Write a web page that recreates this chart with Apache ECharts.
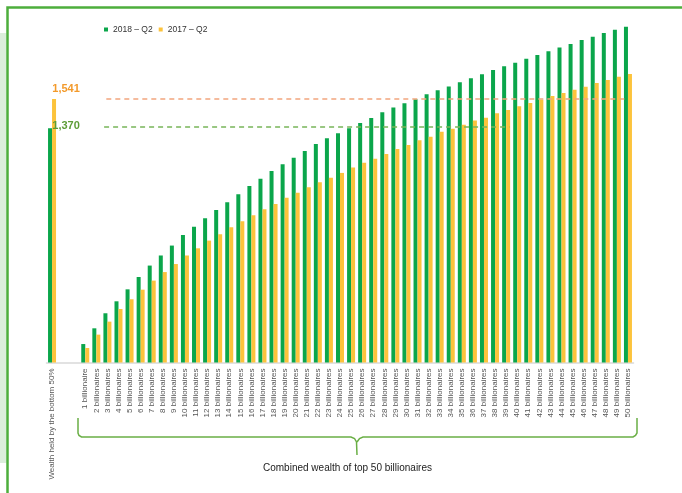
<!DOCTYPE html>
<html>
<head>
<meta charset="utf-8">
<script src="https://cdn.jsdelivr.net/npm/echarts@6/dist/echarts.min.js"></script>
<style>
  html, body { margin: 0; padding: 0; background: #fff; }
  #chart { width: 682px; height: 493px; }
</style>
</head>
<body>
<div id="chart"></div>
<script>
  // 类目（前面两个空位用来隔开）
  let categories = ['Wealth held by the bottom 50%', '', '',
    '1 billionaire', '2 billionaires', '3 billionaires', '4 billionaires', '5 billionaires',
    '6 billionaires', '7 billionaires', '8 billionaires', '9 billionaires', '10 billionaires',
    '11 billionaires', '12 billionaires', '13 billionaires', '14 billionaires', '15 billionaires',
    '16 billionaires', '17 billionaires', '18 billionaires', '19 billionaires', '20 billionaires',
    '21 billionaires', '22 billionaires', '23 billionaires', '24 billionaires', '25 billionaires',
    '26 billionaires', '27 billionaires', '28 billionaires', '29 billionaires', '30 billionaires',
    '31 billionaires', '32 billionaires', '33 billionaires', '34 billionaires', '35 billionaires',
    '36 billionaires', '37 billionaires', '38 billionaires', '39 billionaires', '40 billionaires',
    '41 billionaires', '42 billionaires', '43 billionaires', '44 billionaires', '45 billionaires',
    '46 billionaires', '47 billionaires', '48 billionaires', '49 billionaires', '50 billionaires']

  let seriesNames = ['2018 – Q2', '2017 – Q2']

  // bottom 50%
  let bottom2018 = 1370
  let bottom2017 = 1541
  let bottomLabels = ['1,370', '1,541']

  // top 50 billionaires combined (cumulative)
  let top2018 = [108, 200, 288, 358, 428, 500, 567, 626, 684, 746,
    794, 844, 892, 937, 984, 1033, 1075, 1120, 1159, 1198,
    1237, 1278, 1312, 1341, 1370, 1401, 1430, 1464, 1491, 1516,
    1540, 1569, 1593, 1615, 1639, 1663, 1686, 1711, 1733, 1754,
    1777, 1799, 1821, 1843, 1863, 1887, 1906, 1928, 1947, 1964]
  let top2017 = [85, 163, 239, 313, 370, 426, 479, 529, 576, 626,
    668, 713, 750, 791, 826, 862, 897, 927, 964, 993,
    1025, 1054, 1081, 1109, 1140, 1168, 1192, 1220, 1249, 1272,
    1300, 1321, 1350, 1368, 1391, 1415, 1432, 1458, 1477, 1499,
    1518, 1537, 1559, 1577, 1596, 1613, 1635, 1653, 1672, 1688]

  // 参考虚线: [起点类目位置, 终点类目位置, 数值]
  let refLine2018 = [4.7, 41.3, 1380]
  let refLine2017 = [4.9, 51.9, 1541]

  let green = '#0BA64B'
  let orange = '#FCC33C'
  let font = 'Liberation Sans, Arial, sans-serif'

  let data2018 = [{
    value: bottom2018,
    label: {
      show: true, position: 'top', offset: [16, 8], formatter: bottomLabels[0],
      color: '#5D9C37', fontWeight: 'bold', fontSize: 11, fontFamily: font
    }
  }, '-', '-'].concat(top2018)
  let data2017 = [{
    value: bottom2017,
    label: {
      show: true, position: 'top', offset: [12, 0], formatter: bottomLabels[1],
      color: '#F39A2B', fontWeight: 'bold', fontSize: 11, fontFamily: font
    }
  }, '-', '-'].concat(top2017)

  let bracketStyle = { stroke: '#6AAF45', lineWidth: 1.5, fill: null }

  let myChart = echarts.init(document.getElementById('chart'))
  let option = {
    animation: false,
    backgroundColor: '#fff',
    textStyle: { fontFamily: font },
    legend: {
      left: 99,
      top: 20,
      itemWidth: 4,
      itemHeight: 4,
      itemGap: 6,
      icon: 'rect',
      textStyle: { fontSize: 8.5, color: '#333', fontFamily: font },
      data: seriesNames
    },
    grid: {
      left: 46.5,
      right: 48.5,
      top: 20.6,
      bottom: 130.5
    },
    xAxis: [{
      type: 'category',
      data: categories,
      axisTick: { show: false },
      axisLine: { lineStyle: { color: '#d9d9d9', width: 1.5 } },
      axisLabel: {
        interval: 0,
        rotate: 90,
        fontSize: 8,
        margin: 6,
        color: '#555',
        fontFamily: font
      }
    }, {
      // 隐藏的数值轴，用来画虚线
      type: 'value',
      min: -0.5,
      max: categories.length - 0.5,
      show: false
    }],
    yAxis: {
      type: 'value',
      min: 0,
      max: 2000,
      show: false
    },
    series: [{
      name: seriesNames[0],
      type: 'bar',
      barWidth: 4,
      barGap: '0%',
      itemStyle: { color: green },
      data: data2018
    }, {
      name: seriesNames[1],
      type: 'bar',
      barWidth: 4,
      itemStyle: { color: orange },
      data: data2017
    }, {
      type: 'line',
      xAxisIndex: 1,
      data: [],
      silent: true,
      markLine: {
        symbol: ['none', 'none'],
        label: { show: false },
        silent: true,
        data: [
          [{ coord: [refLine2017[0], refLine2017[2]], lineStyle: { color: '#F2A57E', type: [5, 4], width: 1.5 } },
           { coord: [refLine2017[1], refLine2017[2]] }],
          [{ coord: [refLine2018[0], refLine2018[2]], lineStyle: { color: '#78B55A', type: [5, 4], width: 1.5 } },
           { coord: [refLine2018[1], refLine2018[2]] }]
        ]
      }
    }],
    graphic: [{
      // 左侧浅绿色底
      type: 'rect',
      shape: { x: 0, y: 33, width: 6.5, height: 430 },
      style: { fill: '#DCEEDC' },
      silent: true
    }, {
      // 外框
      type: 'polyline',
      shape: { points: [[7.5, 493], [7.5, 7.5], [682, 7.5]] },
      style: { stroke: '#4DAE3C', lineWidth: 2.5, fill: null },
      silent: true
    }, {
      // 大括号 左半
      type: 'polyline',
      shape: { points: [[78, 418], [78, 433], [79, 435.5], [81.5, 437], [351, 437], [354.5, 438.5], [356.5, 442], [357, 455]] },
      style: bracketStyle,
      silent: true
    }, {
      // 大括号 右半
      type: 'polyline',
      shape: { points: [[357, 442], [359.5, 438.5], [363, 437], [633, 437], [635.5, 435.5], [637, 433], [637, 418]] },
      style: bracketStyle,
      silent: true
    }, {
      type: 'text',
      left: 263,
      top: 463,
      style: {
        text: 'Combined wealth of top 50 billionaires',
        fontSize: 10,
        fill: '#222',
        fontFamily: font
      }
    }]
  }
  myChart.setOption(option)
</script>
</body>
</html>
